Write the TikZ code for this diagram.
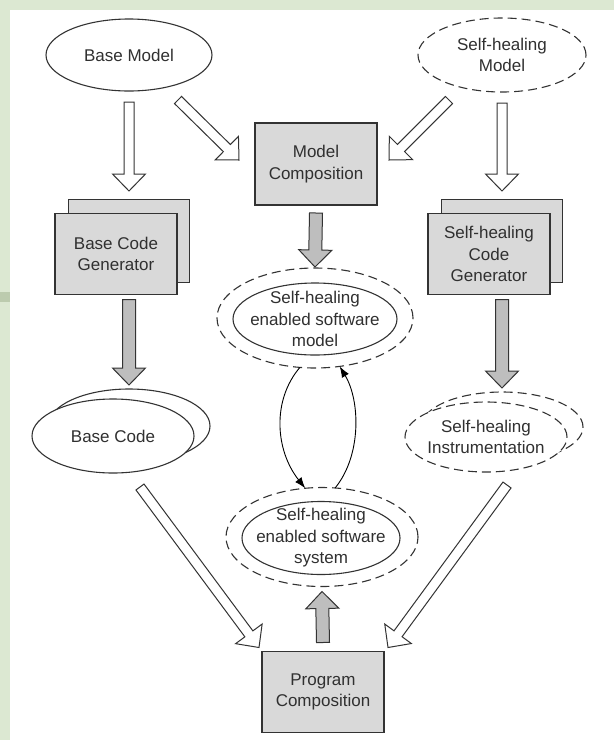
\documentclass[tikz,border=0pt]{standalone}
\usepackage{fontspec}
\setmainfont{Liberation Sans}
\usetikzlibrary{shapes.geometric,calc,arrows.meta}

\definecolor{inkc}{HTML}{333333}
\definecolor{textc}{HTML}{303030}
\definecolor{boxfill}{HTML}{D9D9D9}
\definecolor{arrowfill}{HTML}{BEBEBE}
\definecolor{leaf}{HTML}{DCE8D2}
\definecolor{leafdark}{HTML}{BCCBAE}

% Block arrow: #1 style, #2 tail coordinate, #3 tip coordinate, #4 half shaft width
\newcommand{\tfblockarrow}[4]{%
  \coordinate (ba-h) at ($(#3)!17pt!(#2)$);
  \draw[#1] ($(#2)!#4!90:(#3)$) -- ($(ba-h)!#4!90:(#3)$)
    -- ($(ba-h)!16.5pt!90:(#3)$) -- (#3) -- ($(ba-h)!16.5pt!-90:(#3)$)
    -- ($(ba-h)!#4!-90:(#3)$) -- ($(#2)!#4!-90:(#3)$) -- cycle;
}

\begin{document}
\begin{tikzpicture}[x=1pt,y=-1pt,
  every node/.style={inner sep=0pt, outer sep=0pt},
  ink/.style={draw=inkc, line width=1.1pt},
  ell/.style={ellipse, ink, fill=white},
  dashell/.style={ell, dash pattern=on 9pt off 5pt},
  procbox/.style={rectangle, ink, fill=boxfill},
  txt/.style={font=\fontsize{17}{21.5}\selectfont, text=textc, align=center},
  hollow/.style={draw=inkc, line width=1pt, fill=white, line join=miter},
  solidarr/.style={draw=inkc, line width=1pt, fill=arrowfill, line join=miter},
  cyclearrow/.style={draw=black, line width=0.9pt, -{Latex[length=11pt,width=8pt]}}
]
% page and backdrop
\useasboundingbox (0,0) rectangle (614,740);
\fill[leaf] (0,0) rectangle (614,740);
\fill[leafdark] (0,292) rectangle (10,302);
\fill[white] (10,10) rectangle (614,740);

% models
\node[ell, minimum width=166pt, minimum height=72pt] (bm) at (129,55) {};
\node[dashell, minimum width=168pt, minimum height=74pt] (shm) at (502,55) {};

% composition boxes
\node[procbox, minimum width=122pt, minimum height=82pt] (mc) at (316,164) {};
\node[procbox, minimum width=122pt, minimum height=81pt] (pc) at (323,692) {};

% code generators (stacked)
\node[procbox, minimum width=121pt, minimum height=83pt] (bcgback) at (129,241) {};
\node[procbox, minimum width=122pt, minimum height=81pt] (bcg) at (116,254) {};
\node[procbox, minimum width=121pt, minimum height=83pt] (shcgback) at (502,241) {};
\node[procbox, minimum width=122pt, minimum height=81pt] (shcg) at (489,254) {};

% self-healing enabled software model and system
\node[dashell, minimum width=196pt, minimum height=100pt] (smo) at (315,318) {};
\node[ell, minimum width=164pt, minimum height=72pt] (smi) at (315,319) {};
\node[dashell, minimum width=192pt, minimum height=99pt] (sso) at (322,537) {};
\node[ell, minimum width=158pt, minimum height=73pt] (ssi) at (321,538) {};

% generated code
\node[ell, minimum width=162pt, minimum height=74pt] (bcback) at (129,426) {};
\node[ell, minimum width=162pt, minimum height=74pt] (bc) at (113,436) {};
\node[dashell, minimum width=162pt, minimum height=70pt] (inback) at (502,427) {};
\node[dashell, minimum width=162pt, minimum height=70pt] (instr) at (486,437) {};

% labels
\node[txt] at (bm.center) {Base Model};
\node[txt] at (shm.center) {Self-healing\\Model};
\node[txt] at (mc.center) {Model\\Composition};
\node[txt] at (pc.center) {Program\\Composition};
\node[txt] at (bcg.center) {Base Code\\Generator};
\node[txt] at (shcg.center) {Self-healing\\Code\\Generator};
\node[txt] at (smi.center) {Self-healing\\enabled software\\model};
\node[txt] at (ssi.center) {Self-healing\\enabled software\\system};
\node[txt] at (bc.center) {Base Code};
\node[txt] at (instr.center) {Self-healing\\Instrumentation};

% arrow end points
\coordinate (a1t) at ($(bm.south)+(0,11)$);
\coordinate (a1h) at ($(bcgback.north)+(0,-8.5)$);
\coordinate (a2t) at ($(bm.center)+(49,45)$);
\coordinate (a2h) at ($(mc.west)+(-16,-4)$);
\coordinate (a3t) at ($(shm.center)+(-53,45)$);
\coordinate (a3h) at ($(mc.east)+(12,-4)$);
\coordinate (a4t) at ($(shm.south)+(0,11)$);
\coordinate (a4h) at ($(shcgback.north)+(0,-8.5)$);
\coordinate (a5t) at ($(mc.south)+(0,8)$);
\coordinate (a5h) at ($(smo.north)+(0,-1)$);
\coordinate (a6t) at ($(bcgback.south)+(0,17)$);
\coordinate (a6h) at ($(bcback.north)+(0,-4)$);
\coordinate (a7t) at ($(shcgback.south)+(0,17)$);
\coordinate (a7h) at ($(inback.north)+(0,-4)$);
\coordinate (a8t) at ($(bc.center)+(27,51)$);
\coordinate (a8h) at ($(pc.north west)+(-3,-4)$);
\coordinate (a9t) at ($(instr.center)+(21,48)$);
\coordinate (a9h) at ($(pc.north east)+(4,-4)$);
\coordinate (a10t) at ($(pc.north)+(0,-9)$);
\coordinate (a10h) at ($(sso.south)+(0,5)$);

% hollow block arrows
\tfblockarrow{hollow}{a1t}{a1h}{5pt}
\tfblockarrow{hollow}{a2t}{a2h}{5pt}
\tfblockarrow{hollow}{a3t}{a3h}{5pt}
\tfblockarrow{hollow}{a4t}{a4h}{5pt}
\tfblockarrow{hollow}{a8t}{a8h}{5pt}
\tfblockarrow{hollow}{a9t}{a9h}{5pt}

% filled block arrows
\tfblockarrow{solidarr}{a5t}{a5h}{6.5pt}
\tfblockarrow{solidarr}{a6t}{a6h}{6.5pt}
\tfblockarrow{solidarr}{a7t}{a7h}{6.5pt}
\tfblockarrow{solidarr}{a10t}{a10h}{6.5pt}

% round trip between software model and system
\draw[cyclearrow] (smo.-107) .. controls (272,400) and (275,450) .. (sso.109);
\draw[cyclearrow] (sso.75) .. controls (362,455) and (360,400) .. (smo.-63);
\end{tikzpicture}
\end{document}
